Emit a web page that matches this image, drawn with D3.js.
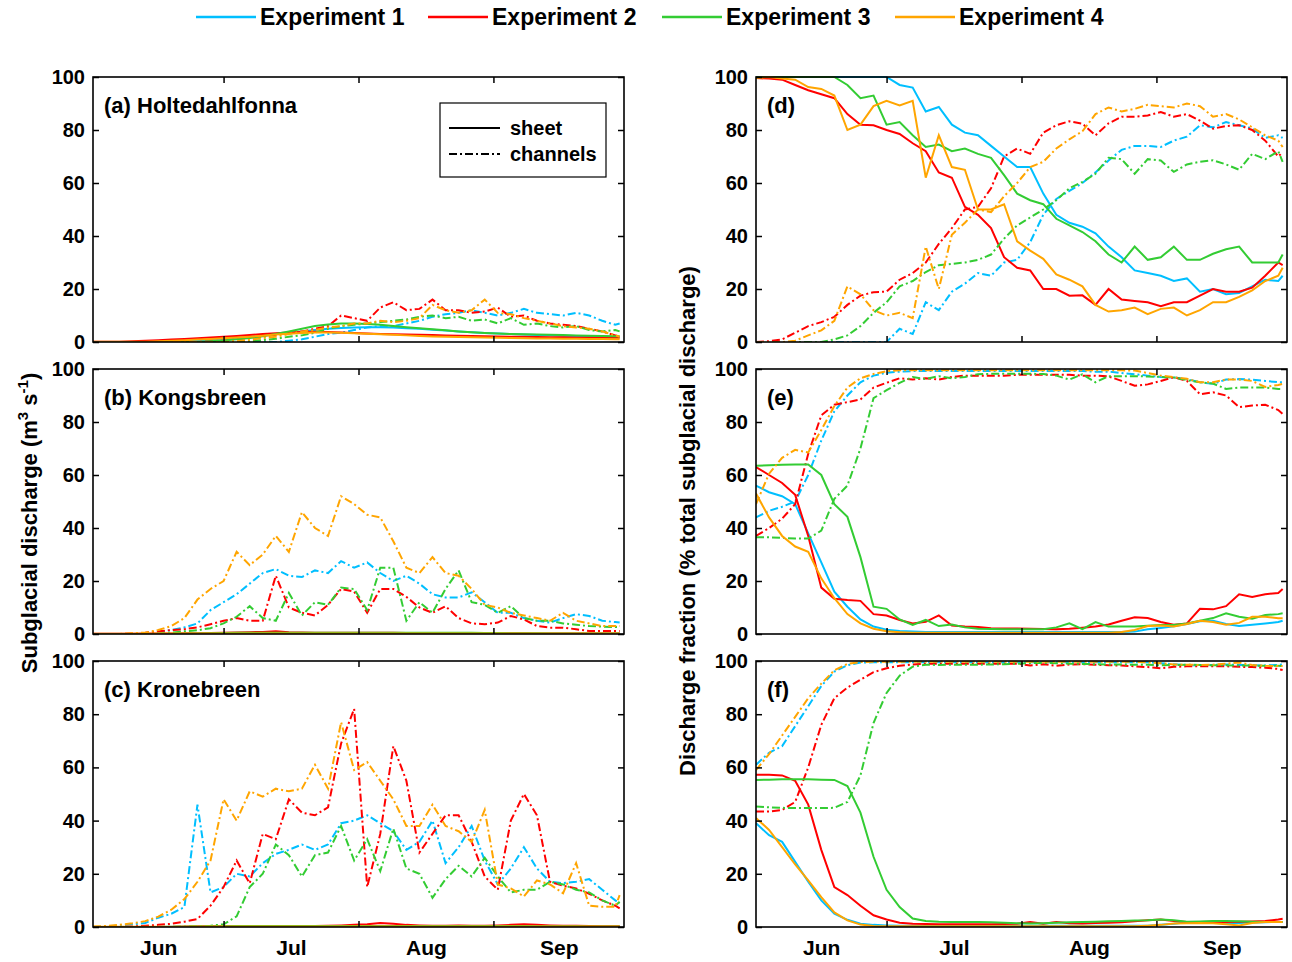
<!DOCTYPE html>
<html><head><meta charset="utf-8">
<script src="https://cdn.jsdelivr.net/npm/d3@7"></script>
<style>
body{margin:0;background:#fff}
text{font-family:"Liberation Sans",Arial,Helvetica,sans-serif;font-weight:bold;fill:#000}
</style></head>
<body><svg id="chart" width="1292" height="962"></svg>
<script>
// ---------- data ----------
const days = [0,3,6,9,12,15,18,21,24,27,30,33,36,39,42,45,48,51,54,57,60,63,66,69,72,75,78,81,84,87,90,93,96,99,102,105,108,111,114,117,120,121]; // days since 1 June
const experiments = ["Experiment 1","Experiment 2","Experiment 3","Experiment 4"];
const monthLabels = ["Jun","Jul","Aug","Sep"];
const monthMid = [15,45.5,76.5,107];
const monthStarts = [30,61,92];
const yTicks = [0,20,40,60,80,100];
const panelLabels = ["(a) Holtedahlfonna","(b) Kongsbreen","(c) Kronebreen","(d)","(e)","(f)"];
const seriesTypes = ["sheet","channels"];

// (a) Holtedahlfonna, m3/s
const aSheet1 = [0,0,0,0,0,0, 0,0.3,0.5,0.8,1.2,1.6, 2,2.5,3,3.5,4,4.5, 5,5.3,5.5,5.6,5.6,5.5, 5.2,5,4.6,4.3,4,3.7, 3.4,3.2,3,2.8,2.6,2.5, 2.4,2.3,2.2,2.1,2,2];
const aSheet2 = [0.1,0.1,0.1,0.3,0.5,0.7, 0.9,1.1,1.4,1.7,2,2.3, 2.6,3,3.3,3.6,3.8,3.9, 3.8,3.6,3.4,3.2,3,2.9, 2.8,2.7,2.6,2.5,2.4,2.3, 2.2,2.1,2,2,1.9,1.8, 1.8,1.7,1.7,1.6,1.6,1.6];
const aSheet3 = [0,0,0,0,0,0, 0,0,0,0.3,0.6,1, 1.5,2.2,3,4,5,6, 6.6,7,7,6.8,6.5,6, 5.6,5.2,4.8,4.4,4,3.7, 3.4,3.2,3,2.9,2.8,2.7, 2.6,2.5,2.4,2.3,2.2,2.2];
const aSheet4 = [0.1,0.1,0.1,0.1,0.1,0.3, 0.5,0.7,0.9,1.1,1.4,1.7, 2,2.4,2.8,3.1,3.4,3.6, 3.6,3.5,3.3,3.1,2.9,2.7, 2.5,2.3,2.1,2,1.9,1.8, 1.7,1.6,1.5,1.4,1.3,1.3, 1.2,1.2,1.1,1.1,1,1];
const aChan1 = [0,0,0,0,0,0, 0,0,0,0,0,0, 0,0,0,0.5,1,2, 3,3.5,4.5,5.5,6,6, 7,8,9.5,10.5,11,12, 11,10,11,12.5,11,10.5, 10,11,10,8,6.5,7];
const aChan2 = [0,0,0,0,0,0, 0,0,0,0.3,0.6,1, 1.5,2,2.7,3.5,4,5, 6,10,9,8,13,15, 12,12.5,16,12,12,11, 11.5,13,9.5,10,8,7, 6.5,6,5,4,2.5,2];
const aChan3 = [0,0,0,0,0,0, 0,0,0,0,0,0, 0.3,0.7,1.2,2,2.5,3.5, 5,6,6.5,7,7.5,8, 8.5,9.5,10,9,9.5,8, 8.5,7,9,6.5,7,6, 5.5,6,4.5,4,4.5,4];
const aChan4 = [0,0,0,0,0,0, 0,0,0,0,0,0.3, 0.8,1.5,2,3,4,4.5, 5.5,6,7,7,8,7.5, 8,9,14,12,11,12, 16,11,10.5,9,8,7, 6,5.5,5,4,2.5,2];

// (b) Kongsbreen, m3/s
const bSheet1 = [0,0,0,0,0,0, 0,0.1,0.2,0.3,0.3,0.3, 0.3,0.3,0.3,0.3,0.3,0.3, 0.3,0.3,0.3,0.3,0.3,0.3, 0.3,0.3,0.3,0.3,0.3,0.3, 0.3,0.3,0.2,0.2,0.2,0.2, 0.2,0.2,0.2,0.2,0.2,0.2];
const bSheet2 = [0.1,0.1,0.1,0.1,0.2,0.2, 0.2,0.3,0.3,0.4,0.5,0.6, 0.7,0.8,1,0.7,0.6,0.5, 0.5,0.5,0.5,0.5,0.5,0.5, 0.4,0.4,0.4,0.4,0.3,0.3, 0.3,0.3,0.3,0.3,0.2,0.2, 0.2,0.2,0.2,0.2,0.2,0.2];
const bSheet3 = [0,0,0,0,0,0, 0,0.1,0.2,0.3,0.4,0.5, 0.5,0.5,0.5,0.5,0.5,0.5, 0.5,0.5,0.5,0.5,0.5,0.5, 0.5,0.5,0.5,0.5,0.5,0.5, 0.4,0.4,0.3,0.3,0.3,0.2, 0.2,0.2,0.2,0.2,0.2,0.2];
const bSheet4 = [0.1,0.1,0.1,0.1,0.1,0.2, 0.2,0.2,0.2,0.2,0.2,0.2, 0.2,0.2,0.2,0.2,0.2,0.2, 0.2,0.2,0.2,0.2,0.2,0.2, 0.2,0.2,0.2,0.2,0.2,0.2, 0.2,0.2,0.2,0.2,0.2,0.2, 0.2,0.2,0.2,0.2,0.2,0.2];
const bChan1 = [0,0,0,0,0.3,0.8, 1.5,2.5,4,9,12,15, 19,23,24.5,22,21.5,24, 23,27.5,25,27,23,20, 22,19,15,13.8,13.8,15.7, 12,8,8,6,5,4.3, 6,7.5,6.8,5,4.5,4.3];
const bChan2 = [0,0,0,0.2,0.5,1, 1.5,1.8,2.5,3.7,5,6, 5,5,22,10,8,7, 11,17,16,8,17,17, 14,10,8,10.5,6,4, 3.7,4.3,6.8,5.5,3,2.4, 2.4,1.8,1.1,1.1,1.1,1.1];
const bChan3 = [0,0,0,0,0,0.2, 0.5,1,1.4,2.2,4,6.5, 10.5,6,5,15.5,7,12, 11,17.5,17,9,25,25, 5,12,8,17,24,12, 11,8,10.5,6,5,5, 4,3.5,3,2.8,2.6,2.6];
const bChan4 = [0,0,0,0.3,0.5,1.5, 3,6,13,17,20,31, 26,30,37,31,46,40, 37,52,49,45,44,35, 25,23,29,23,22,17, 11,10,8,7,6,5, 8,5,4,3,3,3];

// (c) Kronebreen, m3/s
const cSheet1 = [0,0,0,0,0,0, 0.1,0.2,0.3,0.3,0.3,0.3, 0.3,0.3,0.3,0.3,0.3,0.3, 0.3,0.3,0.3,0.3,0.3,0.3, 0.3,0.3,0.3,0.3,0.3,0.3, 0.3,0.3,0.3,0.2,0.2,0.2, 0.2,0.2,0.2,0.2,0.2,0.2];
const cSheet2 = [0,0,0,0,0,0, 0,0.1,0.2,0.3,0.3,0.3, 0.3,0.3,0.3,0.3,0.4,0.4, 0.5,0.6,0.8,1,1.5,1.2, 0.8,0.6,0.5,0.5,0.6,0.5, 0.5,0.6,0.8,1,0.8,0.6, 0.5,0.5,0.4,0.3,0.3,0.3];
const cSheet3 = [0,0,0,0,0,0, 0,0,0.1,0.2,0.3,0.4, 0.4,0.4,0.4,0.4,0.4,0.4, 0.4,0.4,0.4,0.4,0.4,0.4, 0.4,0.4,0.4,0.4,0.4,0.4, 0.4,0.4,0.4,0.4,0.3,0.3, 0.3,0.3,0.2,0.2,0.2,0.2];
const cSheet4 = [0.1,0.1,0.1,0.1,0.1,0.1, 0.1,0.2,0.2,0.2,0.2,0.2, 0.2,0.2,0.2,0.2,0.2,0.2, 0.2,0.2,0.2,0.2,0.2,0.2, 0.2,0.2,0.2,0.2,0.2,0.2, 0.2,0.2,0.2,0.2,0.2,0.2, 0.2,0.2,0.2,0.2,0.2,0.2];
const cChan1 = [0,0.2,0.5,1,1.5,3.5, 5,7.5,46,13,15,20, 19,24,27.5,29,31,29, 31,39,40,42,39,36, 29,32,40,24,30,38, 25,16,22,30,22,17, 16.5,17,18,14,10,9];
const cChan2 = [0,0,0,0.2,0.5,0.8, 1.2,2,3,8,15,25, 16.4,35,33,48,43,42, 45,69,82,15,35,68, 55,28,35,42,42,32, 19,14,40,50,42,17, 15.5,14.5,12.5,10,8,7];
const cChan3 = [0,0,0,0,0,0, 0.1,0.2,0.3,0.5,1,4, 15,20,31,27,19,27, 28,38,25,33,21,37, 22,20,11,18,23,19, 26,19,13,14,14,17, 16,14,13,10,8,9.5];
const cChan4 = [0.2,0.4,0.8,1.4,2.2,3.9, 6.5,10.5,17,25,48,40, 51,49,52,51,52,61, 52,77,59,62,55,48, 38,38,46,38,36,32, 44,16,14.5,11.5,17.5,16, 12.7,24,8,7.6,7.6,12];

// (d) Holtedahlfonna, % of total
const dSheet1 = [100,100,100,100,100,100, 100,100,100,100,100,97, 96,87,88.7,82,79,78, 74,70,66,66,56,48, 45,43.5,41,36,32,27, 26,25,23,24,19,20, 18,18.5,21,23.5,23,25];
const dSheet2 = [99.6,99.4,99,97,95,93.5, 92,86,82,81.8,80,78.5, 75,72,64,62,51,48, 43,32,28,27,20,20, 17.5,17.6,14,20,16,15.5, 15,13.5,15,15,17.5,20, 19,19,20.5,25,30,29];
const dSheet3 = [100,100,100,100,100,100, 100,97,92,93,82,83, 78,73.6,74.5,72,73,71, 69.5,63,56,53.5,52,46.5, 44,41.5,38,33,30,36, 31,32,36,31,31,33.3, 35,36,30,30,30,33];
const dSheet4 = [99.6,100,99.4,99,96.2,95.5, 93,80,82,89,91,89.3, 91,62,78,66,65,50, 50,52,38,34.5,31.4,25.5, 23.5,21,14,11.5,12,13, 10.5,12.5,13,10,12,15, 15,17,19.5,23,25,28];
const dChan1 = [0,0,0,0,0,0, 0,0,0,0,0,5, 3,15,12,19,22,26, 25,30,31,37.7,48,54, 57,60,64,68.5,72.5,74, 74,73.6,76,77.5,81.8,81, 83,81.8,80.5,77,78,77];
const dChan2 = [0,0.3,1,3.5,6,7.5, 9.5,14,17.5,18.8,19,23.5, 26,30,37,43,50,51, 58,70,73,71,79,81.8, 83.3,82.4,78,82.5,85,85, 85.5,86.8,85,86,83.5,80.5, 81.5,81.8,80,76,70,71.7];
const dChan3 = [0,0,0,0,0,0, 1,2.5,6,11,15,21, 23,26.4,29,29.5,30,31, 33,39,44,47,50,53.5, 58,60.4,63.5,69.5,69,63.5, 69,68.5,64.2,67,68,68.6, 67,65,71,69,72,68];
const dChan4 = [0,0,0,0.5,2.5,4.4, 8,21,18,12,10,11, 9,36,20,40.5,45,50, 49,55,60,66,68,73, 76.5,79.5,86,88.5,87,88, 89.5,89,88.5,90,89,85, 86,84,81,78,76,73.6];

// (e) Kongsbreen, % of total
const eSheet1 = [56,53.5,52,49,38,27, 16,10.3,5.5,2.8,1.6,1.1, 0.9,0.8,0.8,0.8,0.8,0.8, 0.8,0.8,0.8,0.8,0.8,0.8, 0.8,0.8,0.8,0.8,0.8,0.9, 1.8,2.3,2.9,3.8,4.8,5, 3.8,3,3.5,4,4.5,5];
const eSheet2 = [63,60,57,52.5,37,17.5, 13.3,12.8,12.5,7.5,7,5.3, 4,4.6,7,3.2,2.8,2.6, 2.2,2.1,2.1,2,1.9,1.8, 2,2.4,2.8,3.6,5,6.3, 6,4.5,3.5,4,9.5,9.3, 10.5,15,14,15,15.5,17];
const eSheet3 = [63.5,63.7,63.9,64,64,60, 49,44.2,29,10.3,9.5,5.5, 3.4,5.3,3,3.6,2.5,2, 1.9,1.8,1.8,1.8,1.8,2.5, 4,1.8,4.5,2.8,2.8,2.8, 3.1,3.4,3.4,4,5,6, 7.8,6.5,5.8,7.2,7.5,7.8];
const eSheet4 = [53,44,37,33,31,21, 13.5,7.5,4,2,1,0.7, 0.5,0.5,0.5,0.5,0.5,0.5, 0.5,0.5,0.5,0.5,0.5,0.5, 0.5,0.5,0.5,0.5,0.8,1.5, 3,3.2,2.8,3.8,5,4.5, 3.5,4.2,6.5,6.5,5.9,5.9];
const eChan1 = [44,46.5,48,50,60,73, 84,90,95,97.5,98.6,99, 99.2,99.2,99.2,99.2,99.2,99.2, 99.2,99.2,99.2,99.2,99.2,99.2, 99.2,99.2,99,99,98.5,98, 97.5,97,96.8,96.2,95,94.4, 96,96.2,96,95.5,95,95];
const eChan2 = [37,40,43.5,49,68,82.5, 86.5,87.5,88.5,93,94.8,96.5, 96,96.5,96,97,97.5,97.5, 97.5,97.5,97.8,97.8,97.8,97.8, 97.8,97.5,97.5,97.2,95.5,93.7, 94.2,95.5,96.9,95.5,90.5,91.2, 90,85.6,86.2,86.5,84.5,83];
const eChan3 = [36.5,36.5,36.3,36,36,39, 51,56,70,89,92,94.8, 97,96.2,97.3,96.5,97,98, 98.2,98.2,98.2,98.2,98.1,97.5, 96,98,95,97.3,97.3,97.3, 97.2,97,96.8,95.8,95,94.5, 92.5,93,93,93,92.5,92.5];
const eChan4 = [49,60.5,66.5,69.5,68.5,77, 86,93,96.5,98.1,99.2,99.5, 99.5,99.5,99.5,99.5,99.5,99.5, 99.5,99.5,99.5,99.5,99.5,99.5, 99.5,99.5,99.5,99.5,99.5,99.4, 98.5,97.5,96.9,96.3,95,95, 96,96,95.5,93.2,94,94.4];

// (f) Kronebreen, % of total
const fSheet1 = [39,34.5,32,24.5,17,10, 5,2.7,1.2,0.8,0.6,0.5, 0.5,0.5,0.5,0.5,0.5,0.5, 0.5,0.5,0.5,0.5,0.5,0.5, 0.5,0.5,0.5,0.5,0.5,0.5, 0.5,0.8,1.2,1.8,1.9,1.6, 1.3,1.5,1.7,1.8,1.9,1.9];
const fSheet2 = [57.2,57.2,57,55,46,29, 15,12,8,4.4,2.8,1.6, 1.2,1.1,1,1,1,1, 1,1.1,1.2,1.9,1.2,1.9, 1.4,1.3,1.5,1.6,1.8,2.2, 2.5,2.8,2.3,1.9,1.9,2, 1.9,2,2.1,2.3,2.8,3.1];
const fSheet3 = [55.3,55.4,55.5,55.5,55.5,55.4, 55.3,53,43,26.4,14,7.5, 3.2,2.3,2,1.9,1.9,1.9, 1.8,1.6,1.4,1.3,1.4,1.6, 1.8,1.9,2,2.2,2.3,2.4, 2.5,2.8,2.5,2,2.1,2.3, 2.3,2.2,2,1.9,1.9,1.9];
const fSheet4 = [41,36.5,30,23.5,17.5,11.2, 5.5,2.5,0.9,0.4,0.3,0.3, 0.3,0.3,0.3,0.3,0.3,0.3, 0.3,0.3,0.3,0.3,0.3,0.3, 0.3,0.3,0.3,0.3,0.3,0.3, 0.5,0.8,1.3,1.4,1.5,1.4, 1,0.6,1.5,1.9,1.9,1.9];
const fChan1 = [61,65.5,68,75.5,83,90.6, 96,98.4,99.4,99.5,99.5,99.5, 99.5,99.5,99.5,99.5,99.5,99.5, 99.5,99.5,99.5,99.5,99.5,99.5, 99.5,99.5,99.5,99.5,99.5,99.5, 99.5,99.2,98.8,98.5,98.3,98.5, 98.7,98.5,98.4,98.3,98.5,98.7];
const fChan2 = [43.4,43.4,44,47,60,76, 86,90,93,95.8,97.3,98.2, 98.7,99,99,99,99,99, 99,99,99,98.3,98.8,98.2, 98.7,98.8,98.6,98.4,98.3,98, 97.7,97.3,97.8,98,98,98, 98,97.8,97.7,97.5,97,96.6];
const fChan3 = [45.3,45,44.8,44.7,44.7,44.7, 44.8,47,57,76.7,88,94.5, 97.9,98.6,98.5,98.6,98.6,98.6, 98.7,98.8,99,99.2,99.3,99.2, 99,98.9,98.8,98.7,98.7,98.6, 98.6,98.4,98.5,98.6,98.5,98.4, 98.4,98.3,98.3,98.2,98.2,98.1];
const fChan4 = [59,65,72,79,86,91.5, 96.5,98.9,99.6,99.7,99.7,99.7, 99.7,99.7,99.7,99.7,99.7,99.7, 99.7,99.7,99.7,99.7,99.7,99.7, 99.7,99.7,99.7,99.7,99.7,99.7, 99.5,99.2,98.7,98.6,98.5,98.6, 99,99.4,98.5,98.2,98.1,98.1];

// ---------- layout / style ----------
const colors = ["#00BFFF","#FF0000","#33CC33","#FFA500"];
const dashChan = "8,3,2,3";
const colX = [[93,624],[756,1287]];
const rowY = [[77,342],[369,634],[661,927]];

const panels = [
  {col:0,row:0,sheet:[aSheet1,aSheet2,aSheet3,aSheet4],chan:[aChan1,aChan2,aChan3,aChan4]},
  {col:0,row:1,sheet:[bSheet1,bSheet2,bSheet3,bSheet4],chan:[bChan1,bChan2,bChan3,bChan4]},
  {col:0,row:2,sheet:[cSheet1,cSheet2,cSheet3,cSheet4],chan:[cChan1,cChan2,cChan3,cChan4]},
  {col:1,row:0,sheet:[dSheet1,dSheet2,dSheet3,dSheet4],chan:[dChan1,dChan2,dChan3,dChan4]},
  {col:1,row:1,sheet:[eSheet1,eSheet2,eSheet3,eSheet4],chan:[eChan1,eChan2,eChan3,eChan4]},
  {col:1,row:2,sheet:[fSheet1,fSheet2,fSheet3,fSheet4],chan:[fChan1,fChan2,fChan3,fChan4]}
];

const svg = d3.select("#chart");

panels.forEach((p,pi)=>{
  const [x0,x1] = colX[p.col], [y0,y1] = rowY[p.row];
  const x = d3.scaleLinear().domain([0,122]).range([x0,x1]);
  const y = d3.scaleLinear().domain([0,100]).range([y1,y0]);
  const g = svg.append("g");
  const clipId = "clip"+pi;
  g.append("clipPath").attr("id",clipId).append("rect")
    .attr("x",x0).attr("y",y0-2).attr("width",x1-x0).attr("height",y1-y0+2);
  const line = d3.line().x((d,i)=>x(days[i])).y(d=>y(d));
  const lg = g.append("g").attr("clip-path",`url(#${clipId})`);
  for(let e=0;e<4;e++){
    lg.append("path").datum(p.chan[e]).attr("d",line)
      .attr("fill","none").attr("stroke",colors[e]).attr("stroke-width",2)
      .attr("stroke-dasharray",dashChan);
    lg.append("path").datum(p.sheet[e]).attr("d",line)
      .attr("fill","none").attr("stroke",colors[e]).attr("stroke-width",2);
  }
  // axes
  const yl = g.append("g").attr("transform",`translate(${x0},0)`)
    .call(d3.axisLeft(y).tickValues(yTicks).tickSize(-6).tickPadding(8));
  yl.selectAll("text").style("font-size","20px");
  g.append("g").attr("transform",`translate(${x1},0)`)
    .call(d3.axisRight(y).tickValues(yTicks).tickSize(-6).tickFormat(""));
  g.append("g").attr("transform",`translate(0,${y0})`)
    .call(d3.axisTop(x).tickValues(monthStarts).tickSize(-6).tickFormat(""));
  g.append("g").attr("transform",`translate(0,${y1})`)
    .call(d3.axisBottom(x).tickValues(monthStarts).tickSize(-6).tickFormat(""));
  if(p.row===2){
    const ml = g.append("g").attr("transform",`translate(0,${y1})`)
      .call(d3.axisBottom(x).tickValues(monthMid).tickSize(0).tickPadding(13)
        .tickFormat((d,i)=>monthLabels[i]));
    ml.selectAll("text").style("font-size","21px");
  }
  g.selectAll(".domain").remove();
  g.selectAll(".tick line").attr("stroke","#000").attr("stroke-width",1.5);
  g.selectAll(".tick text").attr("font-family",null);
  g.append("rect").attr("x",x0).attr("y",y0).attr("width",x1-x0).attr("height",y1-y0)
    .attr("fill","none").attr("stroke","#000").attr("stroke-width",1.6);
  g.append("text").attr("x",x0+11).attr("y",y0+36).style("font-size","22px").text(panelLabels[pi]);
});

// line-type legend in panel (a)
const lgd = svg.append("g");
lgd.append("rect").attr("x",440).attr("y",103).attr("width",166).attr("height",74)
  .attr("fill","#fff").attr("stroke","#000").attr("stroke-width",1.2);
[0,1].forEach(k=>{
  const yy = 128 + k*26;
  lgd.append("line").attr("x1",449).attr("x2",500).attr("y1",yy).attr("y2",yy)
    .attr("stroke","#000").attr("stroke-width",2)
    .attr("stroke-dasharray",k===1?dashChan:null);
  lgd.append("text").attr("x",510).attr("y",yy+7).style("font-size","20px").text(seriesTypes[k]);
});

// experiments legend
const legX = [196,428,662,895];
experiments.forEach((name,e)=>{
  svg.append("line").attr("x1",legX[e]).attr("x2",legX[e]+60).attr("y1",17).attr("y2",17)
    .attr("stroke",colors[e]).attr("stroke-width",2.5);
  svg.append("text").attr("x",legX[e]+64).attr("y",25).style("font-size","23px").text(name);
});

// axis titles
const t1 = svg.append("text").attr("transform","translate(37,523) rotate(-90)")
  .attr("text-anchor","middle").style("font-size","22px");
t1.append("tspan").text("Subglacial discharge (m");
t1.append("tspan").attr("dy",-9).style("font-size","15px").text("3");
t1.append("tspan").attr("dy",9).text(" s");
t1.append("tspan").attr("dy",-9).style("font-size","15px").text("-1");
t1.append("tspan").attr("dy",9).text(")");
svg.append("text").attr("transform","translate(695,521) rotate(-90)")
  .attr("text-anchor","middle").style("font-size","22px")
  .text("Discharge fraction (% total subglacial discharge)");
</script></body></html>
